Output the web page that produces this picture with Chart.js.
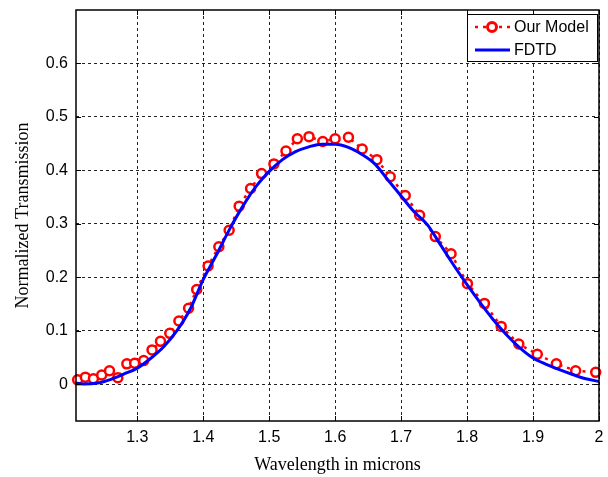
<!DOCTYPE html>
<html>
<head>
<meta charset="utf-8">
<title>Normalized Transmission</title>
<script src="https://cdn.jsdelivr.net/npm/chart.js@4.4.1/dist/chart.umd.min.js"></script>
<style>
    html, body { margin: 0; padding: 0; background: #fff; }
    #wrap { width: 608px; height: 477px; }
</style>
</head>
<body>
<div id="wrap"><canvas id="transmission-chart" width="608" height="477"></canvas></div>
<script>
/* ============================================
   Data
   ============================================ */
const modelWavelength = [
    1.2095, 1.2212, 1.2334, 1.2460, 1.2578, 1.2704, 1.2841, 1.2959, 1.3096, 1.3223,
    1.3351, 1.3492, 1.3630, 1.3777, 1.3900, 1.4073, 1.4236, 1.4392, 1.4544, 1.4717,
    1.4884, 1.5071, 1.5254, 1.5426, 1.5603, 1.5812, 1.5999, 1.6201, 1.6409, 1.6632,
    1.6834, 1.7062, 1.7280, 1.7518, 1.7757, 1.8005, 1.8263, 1.8517, 1.8784, 1.9064,
    1.9353, 1.9646, 1.9950
];
const modelTransmission = [
    0.008, 0.013, 0.010, 0.017, 0.025, 0.012, 0.038, 0.039, 0.044, 0.064,
    0.080, 0.095, 0.118, 0.142, 0.177, 0.221, 0.257, 0.288, 0.333, 0.366,
    0.394, 0.412, 0.436, 0.459, 0.463, 0.454, 0.459, 0.462, 0.440, 0.420,
    0.388, 0.353, 0.316, 0.276, 0.244, 0.188, 0.151, 0.108, 0.075, 0.056,
    0.038, 0.025, 0.022
];

const fdtdWavelength = [
    1.207, 1.22, 1.24, 1.26, 1.28, 1.30, 1.32, 1.34, 1.36, 1.38,
    1.40, 1.42, 1.44, 1.46, 1.48, 1.50, 1.52, 1.54, 1.56, 1.58,
    1.60, 1.62, 1.64, 1.66, 1.68, 1.70, 1.72, 1.74, 1.76, 1.78,
    1.80, 1.82, 1.84, 1.86, 1.88, 1.90, 1.92, 1.94, 1.96, 1.98, 2.00
];
const fdtdTransmission = [
    0.002, 0.000, 0.002, 0.009, 0.019, 0.030, 0.048, 0.070, 0.100, 0.140,
    0.196, 0.242, 0.290, 0.333, 0.370, 0.398, 0.420, 0.435, 0.444, 0.449,
    0.449, 0.443, 0.430, 0.412, 0.382, 0.352, 0.322, 0.298, 0.260, 0.222,
    0.186, 0.152, 0.120, 0.092, 0.068, 0.049, 0.037, 0.027, 0.018, 0.010, 0.005
];

const xTickValues = [1.3, 1.4, 1.5, 1.6, 1.7, 1.8, 1.9, 2.0];
const yTickValues = [0, 0.1, 0.2, 0.3, 0.4, 0.5, 0.6];

const seriesNames = ['Our Model', 'FDTD'];
const xTitle = 'Wavelength in microns';
const yTitle = 'Normalized Transmission';

const SANS = "'Liberation Sans', Arial, Helvetica, sans-serif";
const SERIF = "'Liberation Serif', 'Times New Roman', serif";

/* ============================================
   Box, inward ticks and legend (MATLAB look)
   ============================================ */
const matlabFrame = {
    id: 'matlabFrame',
    afterDatasetsDraw(chart) {
        const { ctx, chartArea: a, scales } = chart;
        ctx.save();
        ctx.strokeStyle = '#000';
        ctx.lineWidth = 1;
        ctx.setLineDash([]);

        // inward tick marks on all four sides
        ctx.beginPath();
        scales.x.ticks.forEach(t => {
            const px = Math.round(scales.x.getPixelForValue(t.value)) + 0.5;
            ctx.moveTo(px, a.bottom); ctx.lineTo(px, a.bottom - 5);
            ctx.moveTo(px, a.top); ctx.lineTo(px, a.top + 5);
        });
        scales.y.ticks.forEach(t => {
            const py = Math.round(scales.y.getPixelForValue(t.value)) + 0.5;
            ctx.moveTo(a.left, py); ctx.lineTo(a.left + 5, py);
            ctx.moveTo(a.right, py); ctx.lineTo(a.right - 5, py);
        });
        ctx.stroke();

        // axes box
        ctx.lineWidth = 1.5;
        ctx.strokeRect(a.left, a.top, a.right - a.left, a.bottom - a.top);

        // legend box
        const lx = 467, ly = 14, lw = 130, lh = 47;
        ctx.fillStyle = '#fff';
        ctx.fillRect(lx, ly, lw, lh);
        ctx.lineWidth = 1;
        ctx.strokeRect(lx + 0.5, ly + 0.5, lw, lh);

        const model = chart.data.datasets[0];
        const fdtd = chart.data.datasets[1];

        // Our Model sample
        const y1 = ly + 13;
        ctx.strokeStyle = model.borderColor;
        ctx.lineWidth = model.borderWidth;
        ctx.setLineDash(model.borderDash);
        ctx.beginPath();
        ctx.moveTo(lx + 8, y1); ctx.lineTo(lx + 43, y1);
        ctx.stroke();
        ctx.setLineDash([]);
        ctx.beginPath();
        ctx.arc(lx + 25, y1, 4.5, 0, Math.PI * 2);
        ctx.fillStyle = '#fff';
        ctx.fill();
        ctx.lineWidth = 3;
        ctx.stroke();

        // FDTD sample
        const y2 = ly + 36;
        ctx.strokeStyle = fdtd.borderColor;
        ctx.lineWidth = fdtd.borderWidth;
        ctx.beginPath();
        ctx.moveTo(lx + 8, y2); ctx.lineTo(lx + 43, y2);
        ctx.stroke();

        ctx.fillStyle = '#000';
        ctx.font = '16px ' + SANS;
        ctx.textBaseline = 'middle';
        ctx.textAlign = 'left';
        ctx.fillText(seriesNames[0], lx + 47, y1 + 1);
        ctx.fillText(seriesNames[1], lx + 47, y2 + 1);
        ctx.restore();
    }
};

const tickLabel = v => String(Number(v.toFixed(2)));

new Chart(document.getElementById('transmission-chart'), {
    type: 'line',
    data: {
        datasets: [
            {
                label: seriesNames[0],
                data: modelWavelength.map((x, i) => ({ x, y: modelTransmission[i] })),
                borderColor: '#ff0000',
                borderWidth: 2.5,
                borderDash: [3, 5],
                backgroundColor: '#ffffff',
                pointRadius: 4.5,
                pointBorderWidth: 2.5,
                pointBackgroundColor: '#ffffff',
                pointBorderColor: '#ff0000',
                tension: 0,
                clip: false,
                order: 1
            },
            {
                label: seriesNames[1],
                data: fdtdWavelength.map((x, i) => ({ x, y: fdtdTransmission[i] })),
                borderColor: '#0000ff',
                borderWidth: 3,
                pointRadius: 0,
                cubicInterpolationMode: 'monotone',
                order: 0
            }
        ]
    },
    options: {
        responsive: false,
        animation: false,
        devicePixelRatio: 1,
        layout: { padding: { top: 10, right: 9, left: 0, bottom: 0 } },
        plugins: {
            legend: { display: false },
            tooltip: { enabled: false }
        },
        scales: {
            x: {
                type: 'linear',
                min: 1.207,
                max: 2.0,
                afterBuildTicks: axis => { axis.ticks = xTickValues.map(v => ({ value: v })); },
                afterFit: axis => {
                    axis.height = 56;
                    axis.paddingLeft = 0;
                    axis.paddingRight = 0;
                },
                grid: { color: '#222', lineWidth: 1, drawTicks: false },
                border: { display: false, dash: [3, 3] },
                ticks: {
                    padding: 7,
                    color: '#000',
                    maxRotation: 0,
                    autoSkip: false,
                    font: { family: SANS, size: 16 },
                    callback: v => tickLabel(v)
                },
                title: {
                    display: true,
                    text: xTitle,
                    color: '#000',
                    font: { family: SERIF, size: 18 },
                    padding: { top: 0, bottom: 1 }
                }
            },
            y: {
                min: -0.069,
                max: 0.7,
                afterBuildTicks: axis => { axis.ticks = yTickValues.map(v => ({ value: v })); },
                afterFit: axis => {
                    axis.width = 76;
                    axis.paddingTop = 0;
                    axis.paddingBottom = 0;
                },
                grid: { color: '#222', lineWidth: 1, drawTicks: false },
                border: { display: false, dash: [3, 3] },
                ticks: {
                    padding: 8,
                    color: '#000',
                    autoSkip: false,
                    font: { family: SANS, size: 16 },
                    callback: v => tickLabel(v)
                },
                title: {
                    display: true,
                    text: yTitle,
                    color: '#000',
                    font: { family: SERIF, size: 18 },
                    padding: { top: 12, bottom: 0 }
                }
            }
        }
    },
    plugins: [matlabFrame]
});
</script>
</body>
</html>
